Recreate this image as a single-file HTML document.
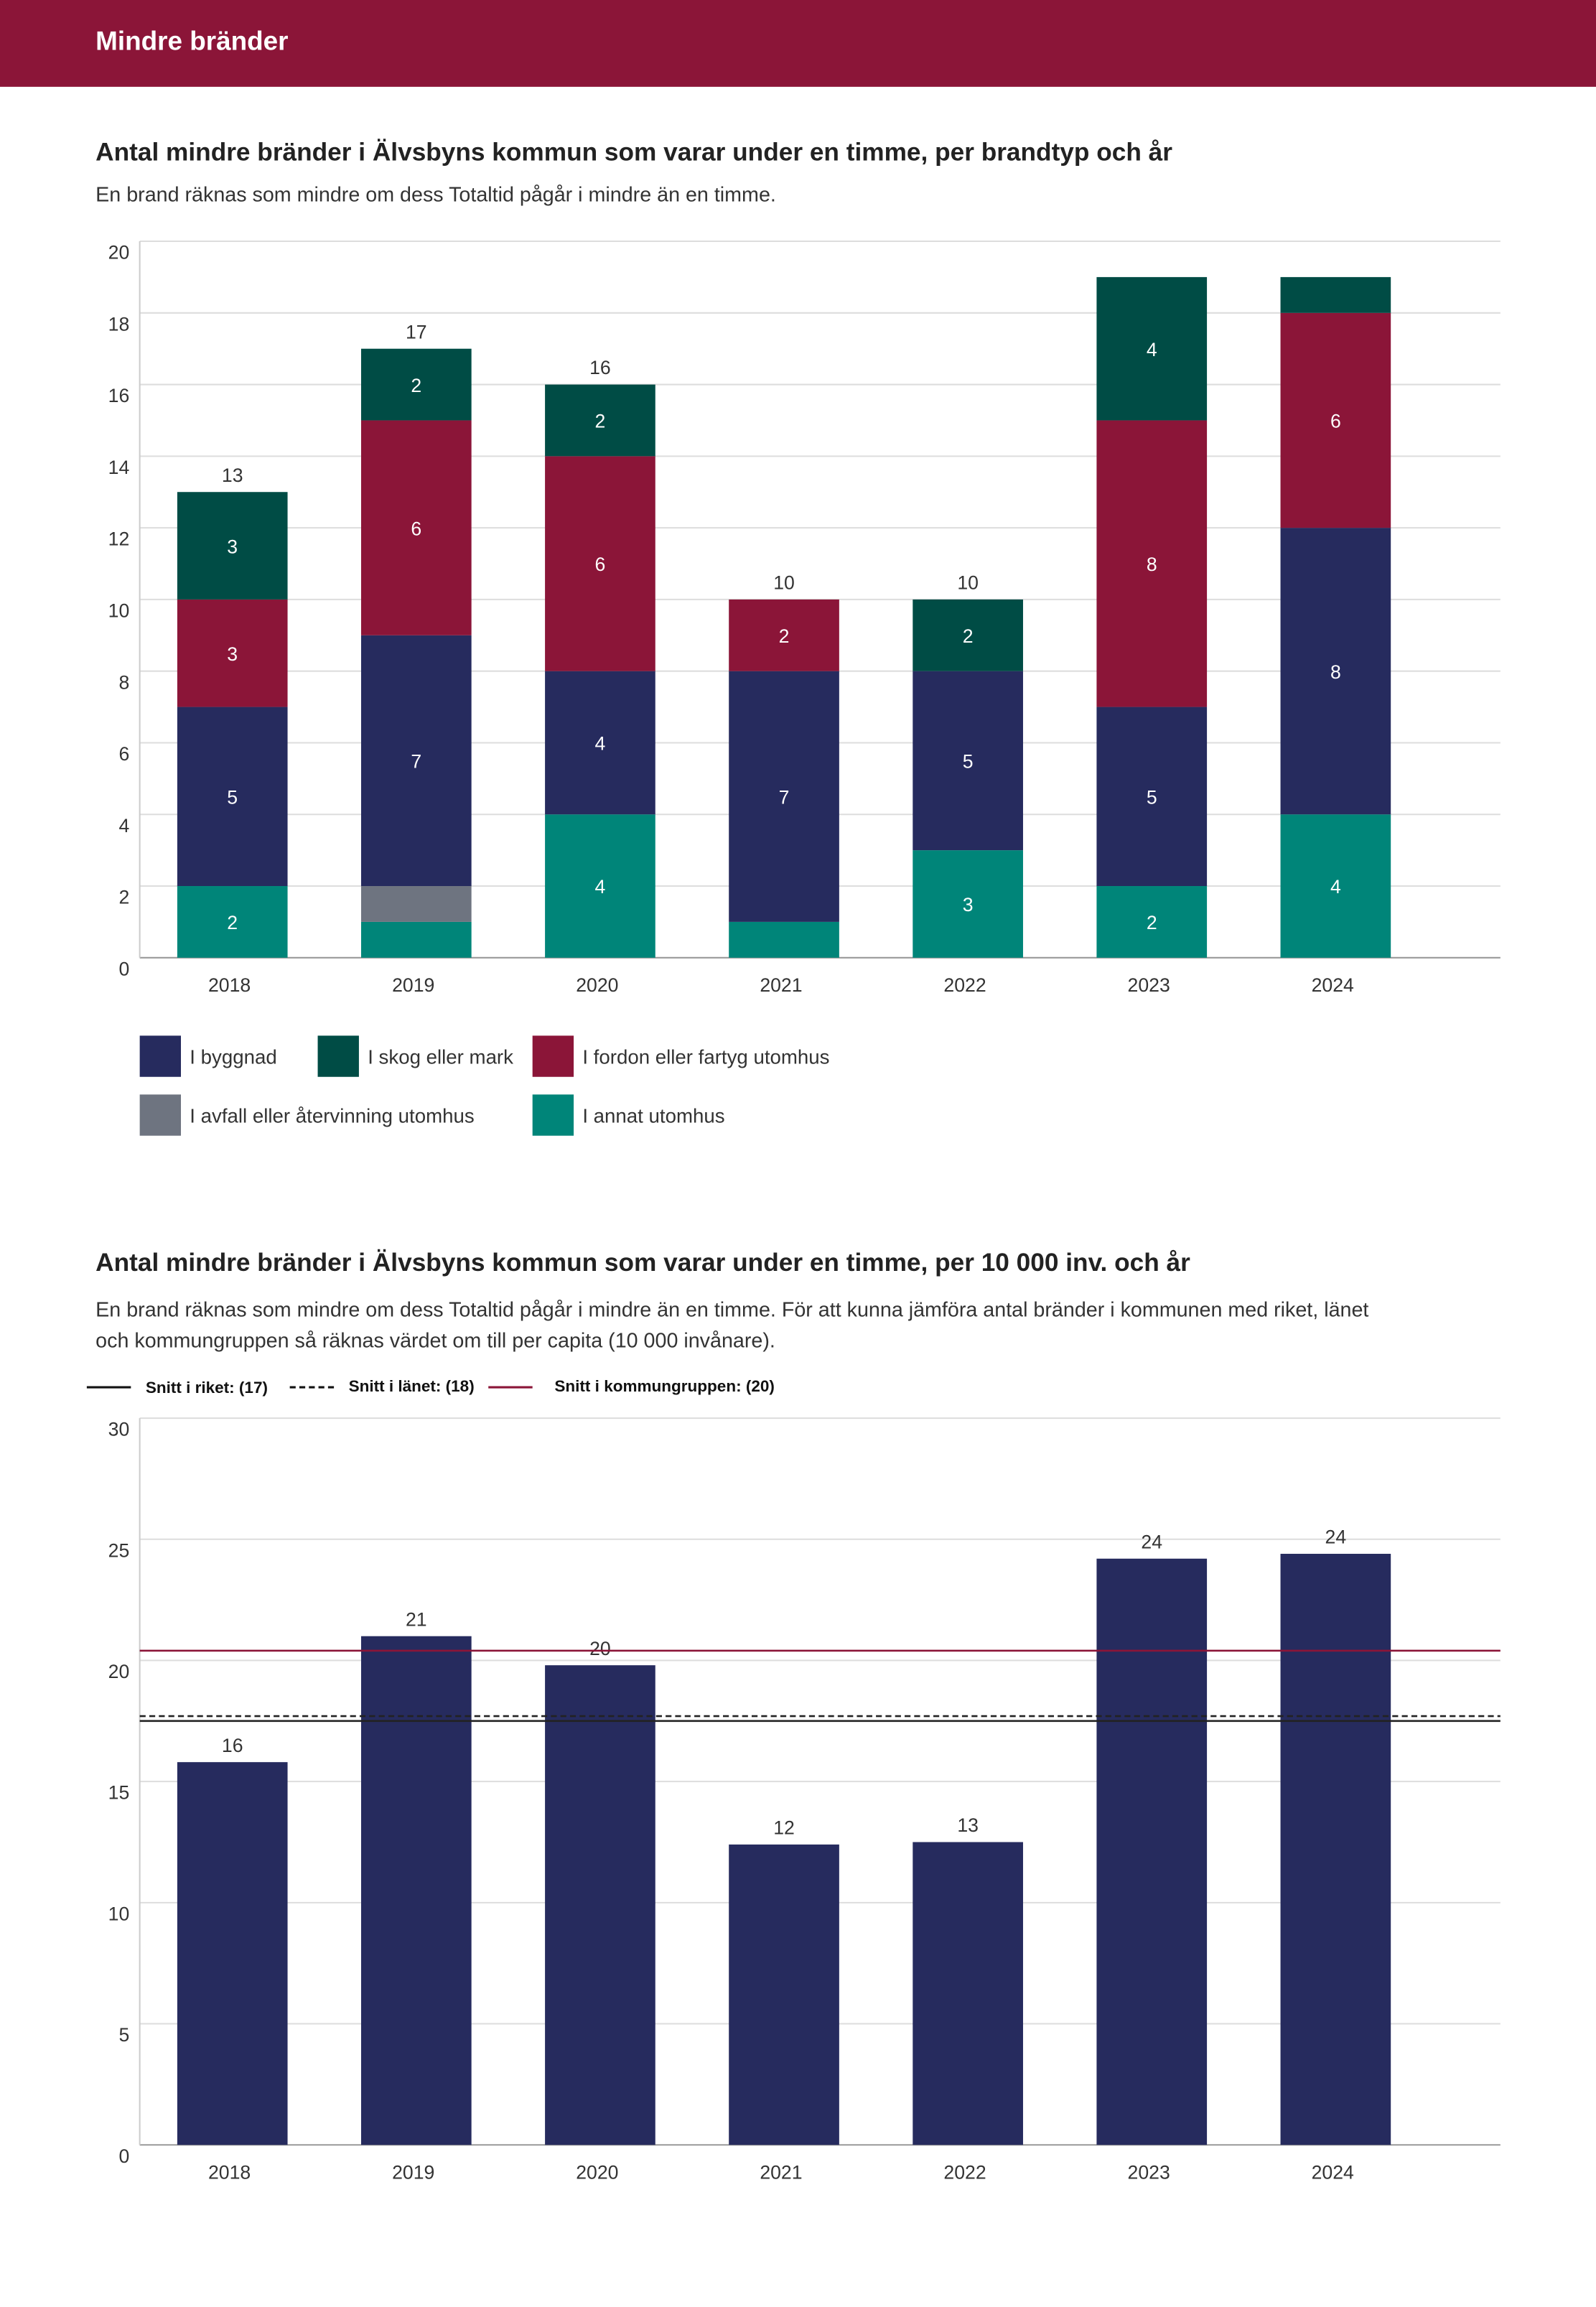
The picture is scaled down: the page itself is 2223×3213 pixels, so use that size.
<!DOCTYPE html>
<html><head><meta charset="utf-8"><style>
html,body{margin:0;padding:0;background:#fff;}
svg{display:block;font-family:"Liberation Sans",sans-serif;}
</style></head><body>
<svg id="s" width="2223" height="3213" viewBox="0 0 1085 1568.2" preserveAspectRatio="none">
<rect x="0" y="0" width="1085" height="59" fill="#8b1538"/>
<text x="65" y="34" fill="#fff" font-size="18" font-weight="bold">Mindre bränder</text>
<text x="65" y="109" fill="#222" font-size="17.2" font-weight="bold">Antal mindre bränder i Älvsbyns kommun som varar under en timme, per brandtyp och år</text>
<text x="65" y="137" fill="#333" font-size="14">En brand räknas som mindre om dess Totaltid pågår i mindre än en timme.</text>
<g id="c1"></g>
<g id="lg1"></g>
<text x="65" y="864" fill="#222" font-size="17.2" font-weight="bold">Antal mindre bränder i Älvsbyns kommun som varar under en timme, per 10 000 inv. och år</text>
<text x="65" y="895" fill="#333" font-size="14">En brand räknas som mindre om dess Totaltid pågår i mindre än en timme. För att kunna jämföra antal bränder i kommunen med riket, länet</text>
<text x="65" y="916" fill="#333" font-size="14">och kommungruppen så räknas värdet om till per capita (10 000 invånare).</text>
<g>
<line x1="59" y1="943" x2="89" y2="943" stroke="#111" stroke-width="1.5"/>
<text x="99" y="947" font-size="11" font-weight="bold" fill="#111">Snitt i riket: (17)</text>
<line x1="197" y1="943" x2="227" y2="943" stroke="#111" stroke-width="1.5" stroke-dasharray="4,2.5"/>
<text x="237" y="946" font-size="11" font-weight="bold" fill="#111">Snitt i länet: (18)</text>
<line x1="332" y1="943" x2="362" y2="943" stroke="#8b1538" stroke-width="1.5"/>
<text x="377" y="946" font-size="11" font-weight="bold" fill="#111">Snitt i kommungruppen: (20)</text>
</g>
<g id="c2"></g>
</svg>
<script>
const years=["2018","2019","2020","2021","2022","2023","2024"];
const annat=[2,1,4,1,3,2,4];
const avfall=[0,1,0,0,0,0,0];
const byggnad=[5,7,4,7,5,5,8];
const fordon=[3,6,6,2,0,8,6];
const skog=[3,2,2,0,2,4,1];
const yTicks1=[0,2,4,6,8,10,12,14,16,18,20];
const perCapita=[15.8,21.0,19.8,12.4,12.5,24.2,24.4];
const perCapitaLabels=["16","21","20","12","13","24","24"];
const yTicks2=[0,5,10,15,20,25,30];
const snittRiket=17.5, snittLanet=17.7, snittKommungrupp=20.4;

const NS="http://www.w3.org/2000/svg";
function mk(p,t,a){const e=document.createElementNS(NS,t);for(const k in a)e.setAttribute(k,a[k]);p.appendChild(e);return e;}
const L=95,R=1020,bw=75;
const xc=i=>158+i*125;

// chart 1
const c1=document.getElementById('c1');
const y1=v=>651-v*(487/20);
yTicks1.forEach(t=>{
 const g=mk(c1,'line',{x1:L,x2:R,y1:y1(t),y2:y1(t),stroke:t===0?'#999':'#ddd','stroke-width':1});
 
 
 const tx=mk(c1,'text',{x:88,y:y1(t)+12,'text-anchor':'end','font-size':13,fill:'#333'});tx.textContent=t;
 
 
});
const ax=mk(c1,'line',{x1:L,x2:L,y1:164,y2:651,stroke:'#ccc'});


const series=[["annat",annat,"#008579"],["avfall",avfall,"#6e7480"],["byggnad",byggnad,"#262b5e"],["fordon",fordon,"#8b1538"],["skog",skog,"#004c45"]];
years.forEach((yr,i)=>{
 let base=0;
 series.forEach(([nm,arr,col])=>{
  const v=arr[i]; if(!v)return;
  const r=mk(c1,'rect',{x:xc(i)-bw/2,y:y1(base+v),width:bw,height:y1(base)-y1(base+v),fill:col});
  
  
  if(v>=2){const t=mk(c1,'text',{x:xc(i),y:(y1(base)+y1(base+v))/2+5,'text-anchor':'middle','font-size':13,fill:'#fff'});t.textContent=v;
   
   }
  base+=v;
 });
 if(base<18){const t=mk(c1,'text',{x:xc(i),y:y1(base)-7,'text-anchor':'middle','font-size':13,fill:'#333'});t.textContent=base;
  
  }
 const xl=mk(c1,'text',{x:xc(i)-2,y:674,'text-anchor':'middle','font-size':13,fill:'#333'});xl.textContent=yr;
 
 
});
// legend 1
const lg=document.getElementById('lg1');
[["I byggnad","#262b5e",95,704],["I skog eller mark","#004c45",216,704],["I fordon eller fartyg utomhus","#8b1538",362,704],["I avfall eller återvinning utomhus","#6e7480",95,744],["I annat utomhus","#008579",362,744]].forEach(([n,c,x,y])=>{
 const r=mk(lg,'rect',{x:x,y:y,width:28,height:28,fill:c});
 
 
 const t=mk(lg,'text',{x:x+34,y:y+19,'font-size':13.5,fill:'#333'});t.textContent=n;
 
 
});

// chart 2
const c2=document.getElementById('c2');
const y2=v=>1458-v*(494/30);
yTicks2.forEach(t=>{
 const g=mk(c2,'line',{x1:L,x2:R,y1:y2(t),y2:y2(t),stroke:t===0?'#999':'#ddd','stroke-width':1});
 
 
 const tx=mk(c2,'text',{x:88,y:y2(t)+12,'text-anchor':'end','font-size':13,fill:'#333'});tx.textContent=t;
 
 
});
const ax2=mk(c2,'line',{x1:L,x2:L,y1:964,y2:1458,stroke:'#ccc'});


years.forEach((yr,i)=>{
 const v=perCapita[i];
 const r=mk(c2,'rect',{x:xc(i)-bw/2,y:y2(v),width:bw,height:y2(0)-y2(v),fill:'#262b5e'});
 
 
 const t=mk(c2,'text',{x:xc(i),y:y2(v)-7,'text-anchor':'middle','font-size':13,fill:'#333'});t.textContent=perCapitaLabels[i];
 
 
 const xl=mk(c2,'text',{x:xc(i)-2,y:1481,'text-anchor':'middle','font-size':13,fill:'#333'});xl.textContent=yr;
 
 
});
const lr=mk(c2,'line',{x1:L,x2:R,y1:y2(snittRiket),y2:y2(snittRiket),stroke:'#222','stroke-width':1.3});


const ll=mk(c2,'line',{x1:L,x2:R,y1:y2(snittLanet),y2:y2(snittLanet),stroke:'#222','stroke-width':1.3,'stroke-dasharray':'4,2.5'});


const lk=mk(c2,'line',{x1:L,x2:R,y1:y2(snittKommungrupp),y2:y2(snittKommungrupp),stroke:'#8b1538','stroke-width':1.3});


</script>
</body></html>
